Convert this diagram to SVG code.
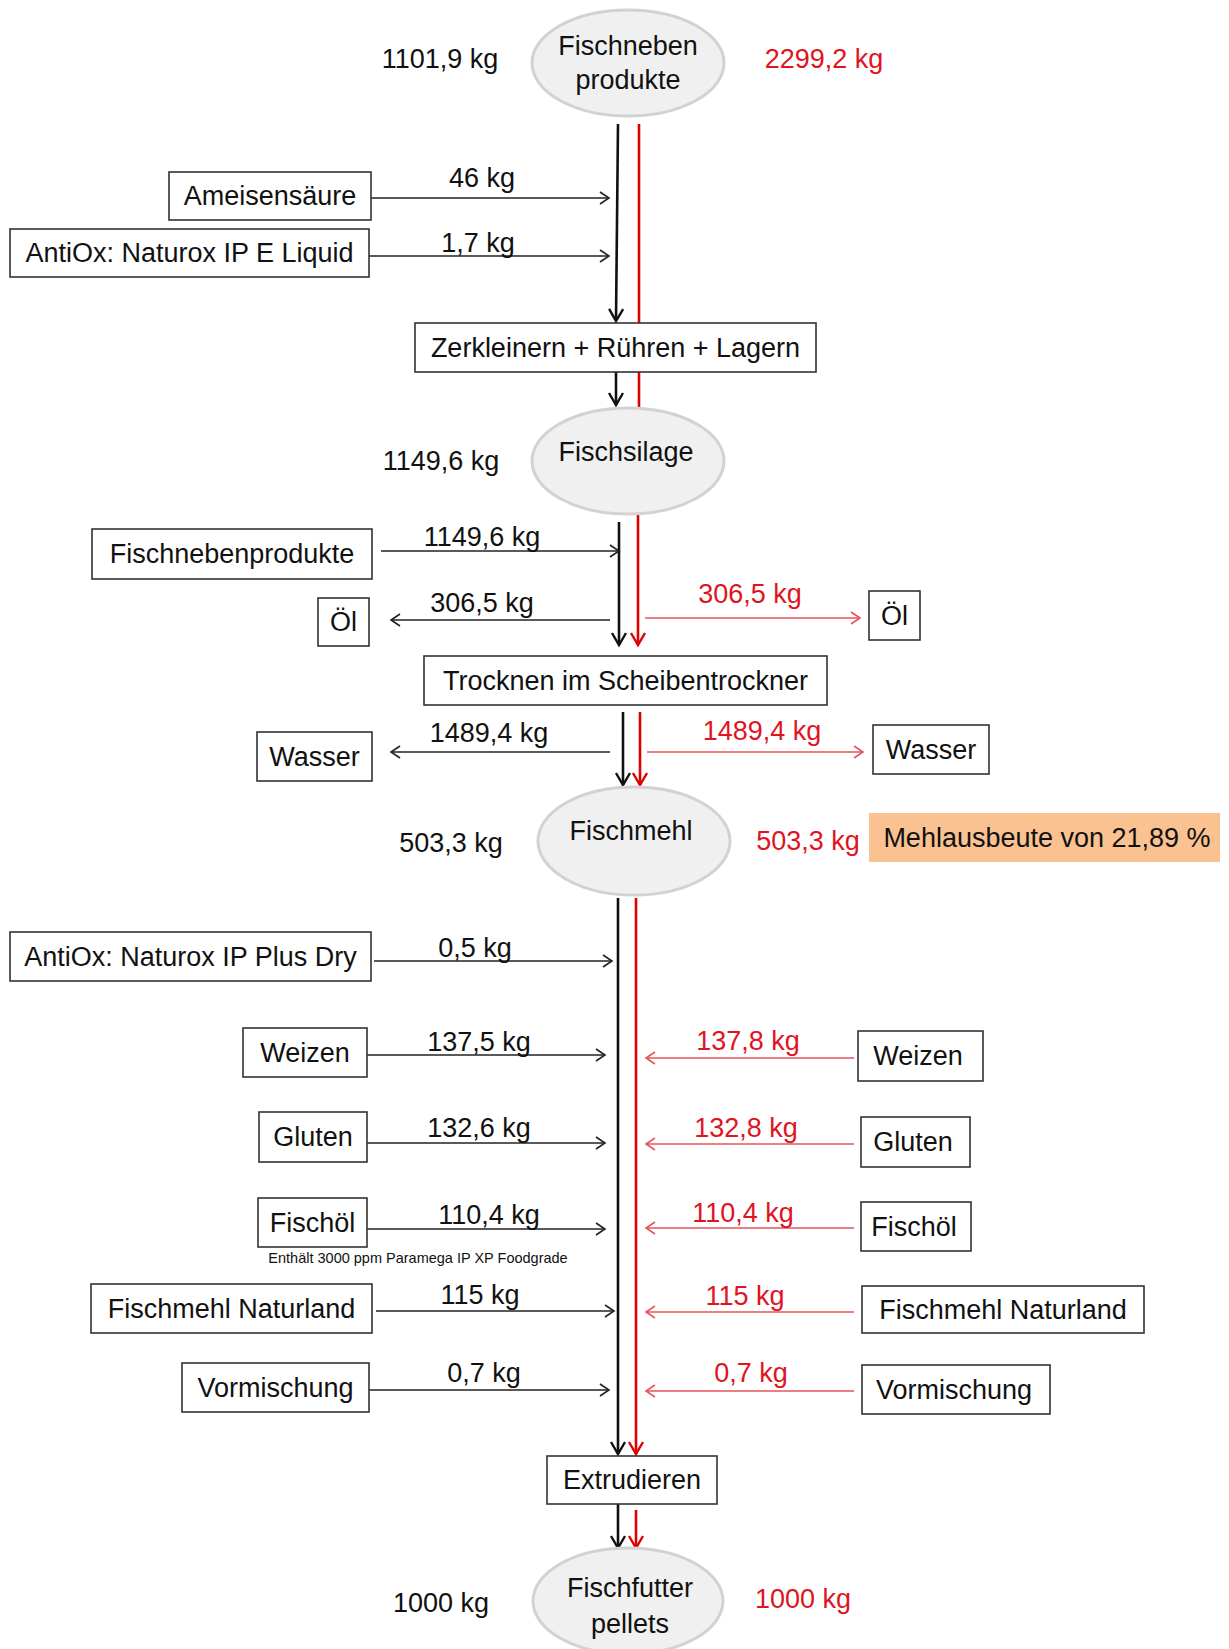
<svg xmlns="http://www.w3.org/2000/svg" width="1229" height="1649" viewBox="0 0 1229 1649">
<style>
text{font-family:"Liberation Sans",Arial,sans-serif;font-size:27px;fill:#111;text-anchor:middle}
.red{fill:#e0141e}
.note{font-size:14.5px}
.box{fill:#fff;stroke:#333;stroke-width:1.6}
.ell{fill:#f0f0f0;stroke:#d2d2d2;stroke-width:3}
.hb{stroke:#222;stroke-width:1.6;fill:none;marker-end:url(#ah)}
.hr{stroke:#e5545a;stroke-width:1.6;fill:none;marker-end:url(#ahr)}
.vb{stroke:#111;stroke-width:2.6;fill:none}
.vr{stroke:#e00000;stroke-width:2.6;fill:none}
.vba{marker-end:url(#av)}
.vra{marker-end:url(#avr)}
</style>
<defs>
<marker id="ah" markerUnits="userSpaceOnUse" markerWidth="12" markerHeight="14" refX="9" refY="6" orient="auto" overflow="visible"><path d="M0,0 L9,6 L0,12" fill="none" stroke="#222" stroke-width="1.6"/></marker>
<marker id="ahr" markerUnits="userSpaceOnUse" markerWidth="12" markerHeight="14" refX="9" refY="6" orient="auto" overflow="visible"><path d="M0,0 L9,6 L0,12" fill="none" stroke="#e5545a" stroke-width="1.6"/></marker>
<marker id="av" markerUnits="userSpaceOnUse" markerWidth="14" markerHeight="16" refX="12" refY="7" orient="auto" overflow="visible"><path d="M0,0 L12,7 L0,14" fill="none" stroke="#111" stroke-width="2.4"/></marker>
<marker id="avr" markerUnits="userSpaceOnUse" markerWidth="14" markerHeight="16" refX="12" refY="7" orient="auto" overflow="visible"><path d="M0,0 L12,7 L0,14" fill="none" stroke="#e00000" stroke-width="2.4"/></marker>
</defs>

<g id="connectors">
  <!-- main vertical flows -->
  <path class="vb vba" d="M618,124 L616,321"/>
  <path class="vr" d="M639,124 L639,323"/>
  <path class="vb vba" d="M616,372 L616,405"/>
  <path class="vr" d="M639,372 L639,408"/>
  <path class="vb vba" d="M619,522 L619,645"/>
  <path class="vr vra" d="M638,515 L638,645"/>
  <path class="vb vba" d="M623,712 L623,785"/>
  <path class="vr vra" d="M640,712 L640,785"/>
  <path class="vb vba" d="M618,898 L618,1454"/>
  <path class="vr vra" d="M636,898 L636,1454"/>
  <path class="vb vba" d="M618,1504 L618,1548"/>
  <path class="vr vra" d="M636,1510 L636,1548"/>
  <!-- black horizontal -->
  <path class="hb" d="M371,198 L609,198"/>
  <path class="hb" d="M369,256 L609,256"/>
  <path class="hb" d="M381,551 L619,551"/>
  <path class="hb" d="M610,620 L391,620"/>
  <path class="hb" d="M610,752 L391,752"/>
  <path class="hb" d="M374,961 L612,961"/>
  <path class="hb" d="M367,1055 L605,1055"/>
  <path class="hb" d="M367,1143 L605,1143"/>
  <path class="hb" d="M367,1229 L605,1229"/>
  <path class="hb" d="M376,1311 L614,1311"/>
  <path class="hb" d="M369,1390 L609,1390"/>
  <!-- red horizontal -->
  <path class="hr" d="M645,618 L860,618"/>
  <path class="hr" d="M647,752 L863,752"/>
  <path class="hr" d="M854,1058 L646,1058"/>
  <path class="hr" d="M854,1144 L646,1144"/>
  <path class="hr" d="M854,1228 L646,1228"/>
  <path class="hr" d="M854,1312 L646,1312"/>
  <path class="hr" d="M854,1391 L646,1391"/>
  <!-- labels -->
  <text x="482" y="187">46 kg</text>
  <text x="478" y="252">1,7 kg</text>
  <text x="482" y="546">1149,6 kg</text>
  <text x="482" y="612">306,5 kg</text>
  <text x="489" y="742">1489,4 kg</text>
  <text x="475" y="957">0,5 kg</text>
  <text x="479" y="1051">137,5 kg</text>
  <text x="479" y="1137">132,6 kg</text>
  <text x="489" y="1224">110,4 kg</text>
  <text x="480" y="1304">115 kg</text>
  <text x="484" y="1382">0,7 kg</text>
  <text class="red" x="750" y="603">306,5 kg</text>
  <text class="red" x="762" y="740">1489,4 kg</text>
  <text class="red" x="748" y="1050">137,8 kg</text>
  <text class="red" x="746" y="1137">132,8 kg</text>
  <text class="red" x="743" y="1222">110,4 kg</text>
  <text class="red" x="745" y="1305">115 kg</text>
  <text class="red" x="751" y="1382">0,7 kg</text>
</g>

<g id="fischnebenprodukte-top">
  <ellipse class="ell" cx="628" cy="63" rx="96" ry="53"/>
  <text x="628" y="55">Fischneben</text>
  <text x="628" y="89">produkte</text>
  <text x="440" y="68">1101,9 kg</text>
  <text class="red" x="824" y="68">2299,2 kg</text>
</g>
<g id="ameisensaeure"><rect class="box" x="169" y="172" width="202" height="48"/><text x="270" y="205">Ameisensäure</text></g>
<g id="antiox-liquid"><rect class="box" x="10" y="229" width="359" height="48"/><text x="189.5" y="262">AntiOx: Naturox IP E Liquid</text></g>
<g id="zerkleinern"><rect class="box" x="415" y="323" width="401" height="49"/><text x="615.5" y="357">Zerkleinern + Rühren + Lagern</text></g>
<g id="fischsilage">
  <ellipse class="ell" cx="628" cy="461" rx="96" ry="53"/>
  <text x="626" y="461">Fischsilage</text>
  <text x="441" y="470">1149,6 kg</text>
</g>
<g id="fischnebenprodukte-input"><rect class="box" x="92" y="529" width="280" height="50"/><text x="232" y="563">Fischnebenprodukte</text></g>
<g id="oel-left"><rect class="box" x="318" y="598" width="51" height="48"/><text x="343.5" y="631">Öl</text></g>
<g id="oel-right"><rect class="box" x="869" y="591" width="51" height="49"/><text x="894.5" y="625">Öl</text></g>
<g id="trocknen"><rect class="box" x="424" y="656" width="403" height="49"/><text x="625.5" y="690">Trocknen im Scheibentrockner</text></g>
<g id="wasser-left"><rect class="box" x="257" y="732" width="115" height="49"/><text x="314.5" y="766">Wasser</text></g>
<g id="wasser-right"><rect class="box" x="873" y="725" width="116" height="49"/><text x="931" y="759">Wasser</text></g>
<g id="fischmehl">
  <ellipse class="ell" cx="634" cy="841" rx="96" ry="54"/>
  <text x="631" y="840">Fischmehl</text>
  <text x="451" y="852">503,3 kg</text>
  <text class="red" x="808" y="850">503,3 kg</text>
</g>
<g id="mehlausbeute"><rect x="869" y="813" width="351" height="49" fill="#fac191"/><text x="1047" y="847">Mehlausbeute von 21,89 %</text></g>
<g id="antiox-dry"><rect class="box" x="10" y="932" width="361" height="49"/><text x="190.5" y="966">AntiOx: Naturox IP Plus Dry</text></g>
<g id="weizen-left"><rect class="box" x="243" y="1028" width="124" height="49"/><text x="305" y="1062">Weizen</text></g>
<g id="gluten-left"><rect class="box" x="259" y="1112" width="108" height="50"/><text x="313" y="1146">Gluten</text></g>
<g id="fischoel-left">
  <rect class="box" x="258" y="1198" width="109" height="49"/><text x="312.5" y="1232">Fischöl</text>
  <text class="note" x="418" y="1263">Enthält 3000 ppm Paramega IP XP Foodgrade</text>
</g>
<g id="fischmehl-naturland-left"><rect class="box" x="91" y="1284" width="281" height="49"/><text x="231.5" y="1318">Fischmehl Naturland</text></g>
<g id="vormischung-left"><rect class="box" x="182" y="1363" width="187" height="49"/><text x="275.5" y="1397">Vormischung</text></g>
<g id="weizen-right"><rect class="box" x="858" y="1031" width="125" height="50"/><text x="918" y="1065">Weizen</text></g>
<g id="gluten-right"><rect class="box" x="861" y="1117" width="109" height="50"/><text x="913" y="1151">Gluten</text></g>
<g id="fischoel-right"><rect class="box" x="861" y="1202" width="110" height="49"/><text x="914" y="1236">Fischöl</text></g>
<g id="fischmehl-naturland-right"><rect class="box" x="862" y="1286" width="282" height="47"/><text x="1003" y="1319">Fischmehl Naturland</text></g>
<g id="vormischung-right"><rect class="box" x="862" y="1365" width="188" height="49"/><text x="954" y="1399">Vormischung</text></g>
<g id="extrudieren"><rect class="box" x="547" y="1456" width="170" height="48"/><text x="632" y="1489">Extrudieren</text></g>
<g id="fischfutterpellets">
  <ellipse class="ell" cx="628" cy="1601" rx="95" ry="53"/>
  <text x="630" y="1597">Fischfutter</text>
  <text x="630" y="1633">pellets</text>
  <text x="441" y="1612">1000 kg</text>
  <text class="red" x="803" y="1608">1000 kg</text>
</g>
</svg>
